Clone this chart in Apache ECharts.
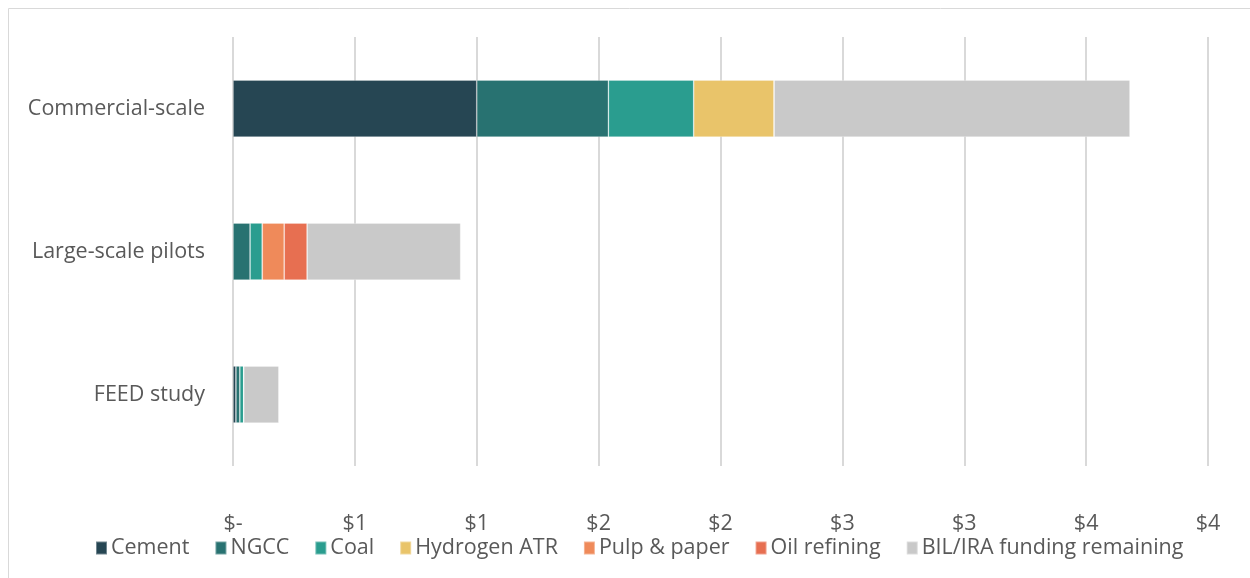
<!DOCTYPE html>
<html>
<head>
<meta charset="utf-8">
<script src="https://cdn.jsdelivr.net/npm/echarts@6/dist/echarts.min.js"></script>
<style>
  html, body { margin: 0; padding: 0; background: #fff; }
  #chart { width: 1250px; height: 578px; }
</style>
</head>
<body>
<div id="chart"></div>
<script>
// Funding by project stage, $ billions (stacked horizontal bars)
const categories = ['FEED study', 'Large-scale pilots', 'Commercial-scale'];
const cement      = [0.012, 0,     1.00];
const ngcc        = [0.016, 0.07,  0.54];
const coal        = [0.016, 0.05,  0.35];
const hydrogenATR = [0,     0,     0.33];
const pulpPaper   = [0,     0.09,  0];
const oilRefining = [0,     0.094, 0];
const bilRemaining= [0.144, 0.63,  1.46];

const seriesNames = ['Cement', 'NGCC', 'Coal', 'Hydrogen ATR', 'Pulp & paper', 'Oil refining', 'BIL/IRA funding remaining'];
const seriesData  = [cement, ngcc, coal, hydrogenATR, pulpPaper, oilRefining, bilRemaining];
const colors = ['#264653', '#287271', '#2a9d8f', '#e9c46a', '#ef8a5a', '#e76f51', '#c9c9c9'];

// Axis tick labels at 0, 0.5, 1.0 ... 4.0 (whole-dollar rounding)
const tickLabels = ['$-', '$1', '$1', '$2', '$2', '$3', '$3', '$4', '$4'];

const FONT = '"Open Sans", "Roboto", sans-serif';
const FS = 21.5;

const chart = echarts.init(document.getElementById('chart'), null, { renderer: 'canvas' });

chart.setOption({
  animation: false,
  color: colors,
  textStyle: { fontFamily: FONT },
  graphic: [{
    type: 'rect',
    shape: { x: 8.5, y: 8.5, width: 1300, height: 600 },
    style: { fill: 'none', stroke: '#d9d9d9', lineWidth: 1 },
    silent: true
  }],
  grid: { left: 233, right: 42, top: 37, bottom: 112, containLabel: false },
  legend: {
    bottom: 14,
    left: 90,
    itemWidth: 11,
    itemHeight: 13,
    itemGap: 25,
    icon: 'rect',
    textStyle: { color: '#595959', fontSize: FS, fontFamily: FONT, padding: [0, 0, 0, -1] },
    data: seriesNames
  },
  xAxis: {
    type: 'value',
    min: 0,
    max: 4,
    interval: 0.5,
    axisLine: { show: false },
    axisTick: { show: false },
    splitLine: { show: true, lineStyle: { color: '#d9d9d9', width: 2 } },
    axisLabel: {
      color: '#595959',
      fontSize: FS,
      margin: 47,
      fontFamily: FONT,
      formatter: function (v) { return tickLabels[Math.round(v / 0.5)]; }
    }
  },
  yAxis: {
    type: 'category',
    data: categories,
    axisLine: { show: false },
    axisTick: { show: false },
    axisLabel: { color: '#595959', fontSize: FS, margin: 28, fontFamily: FONT }
  },
  series: seriesNames.map(function (name, i) {
    return {
      name: name,
      type: 'bar',
      stack: 'total',
      barWidth: 57,
      data: seriesData[i],
      itemStyle: { color: colors[i], borderColor: 'rgba(255,255,255,0.35)', borderWidth: 0.75 }
    };
  })
});
</script>
</body>
</html>
